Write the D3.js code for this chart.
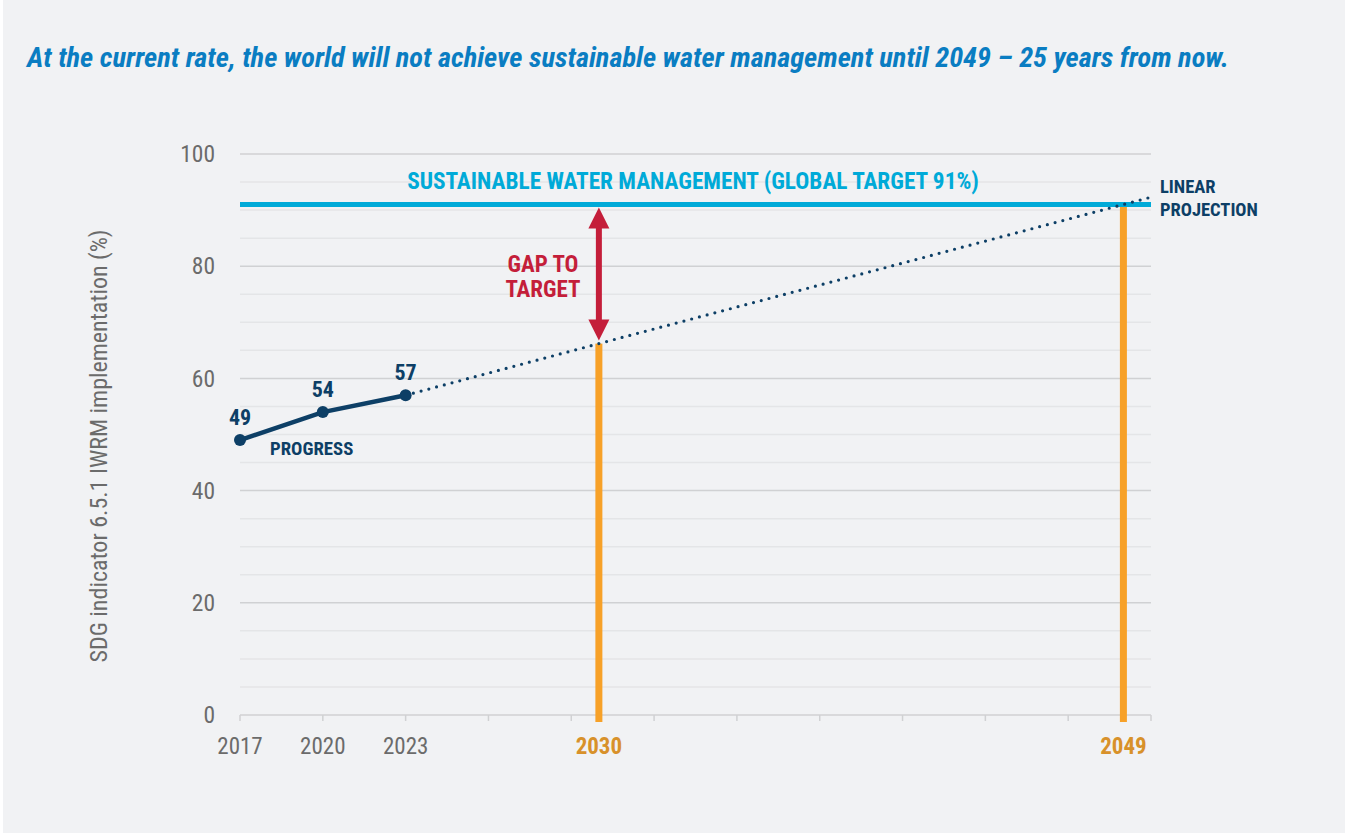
<!DOCTYPE html>
<html lang="en">
<head>
<meta charset="utf-8">
<title>IWRM progress</title>
<script src="https://d3js.org/d3.v7.min.js"></script>
<style>
  html, body { margin: 0; padding: 0; background: #fff; }
  svg { display: block; }
  text { font-family: "Roboto Condensed", "Liberation Sans Narrow", Roboto, sans-serif; }
  .bold { font-weight: 700; }
</style>
</head>
<body>
<script>
// data
var years = [2017, 2020, 2023];
var progress = [49, 54, 57];
var projYears = [2023, 2030, 2049, 2050];
var projValues = [57, 66.2, 91, 92.3];
var target = 91;
var milestoneYears = [2030, 2049];
var milestoneValues = [66.2, 91];
var tickYears = d3.range(2017, 2051, 3);
var yMajor = [0, 20, 40, 60, 80, 100];
var yMinor = d3.range(5, 100, 5).filter(function (v) { return v % 20 !== 0; });

var W = 1345, H = 833;
var navy = "#0d3f66", cyan = "#00aad8", orange = "#f7a128", red = "#c41e3a", grey = "#6b6b6b";

var svg = d3.select("body").append("svg").attr("width", W).attr("height", H);
svg.append("rect").attr("x", 3).attr("y", 0).attr("width", W - 3).attr("height", H).attr("fill", "#f1f2f4");

var x = d3.scaleLinear().domain([2017, 2050]).range([240, 1151]);
var y = d3.scaleLinear().domain([0, 100]).range([715, 154]);

// title
svg.append("text").attr("class", "bold")
   .attr("x", 27).attr("y", 67)
   .attr("font-size", 28.4).attr("font-style", "italic")
   .attr("fill", "#0a7dc2")
   .text("At the current rate, the world will not achieve sustainable water management until 2049 \u2013 25 years from now.");

// grid
svg.selectAll(".minor").data(yMinor).enter().append("line")
   .attr("x1", 240).attr("x2", 1151)
   .attr("y1", function (d) { return y(d); }).attr("y2", function (d) { return y(d); })
   .attr("stroke", "#e4e5e7").attr("stroke-width", 1.5);
svg.selectAll(".major").data(yMajor).enter().append("line")
   .attr("x1", 240).attr("x2", 1151)
   .attr("y1", function (d) { return y(d); }).attr("y2", function (d) { return y(d); })
   .attr("stroke", "#d0d1d3").attr("stroke-width", 1.5);

// y labels
svg.selectAll(".ylab").data(yMajor).enter().append("text")
   .attr("x", 215).attr("y", function (d) { return y(d); }).attr("dy", "0.35em")
   .attr("text-anchor", "end").attr("font-size", 23.5).attr("fill", grey)
   .text(function (d) { return d; });

svg.append("text")
   .attr("transform", "translate(107,446) rotate(-90)")
   .attr("text-anchor", "middle").attr("font-size", 24).attr("fill", grey)
   .text("SDG indicator 6.5.1 IWRM implementation (%)");

// x ticks
svg.selectAll(".xt").data(tickYears).enter().append("line")
   .attr("x1", function (d) { return x(d); }).attr("x2", function (d) { return x(d); })
   .attr("y1", y(0)).attr("y2", y(0) + 6)
   .attr("stroke", "#d0d1d3").attr("stroke-width", 1.5);

svg.selectAll(".xl").data(years).enter().append("text")
   .attr("x", function (d) { return x(d); }).attr("y", 754)
   .attr("text-anchor", "middle").attr("font-size", 23).attr("fill", grey)
   .text(function (d) { return d; });

svg.selectAll(".xm").data(milestoneYears).enter().append("text").attr("class", "bold")
   .attr("x", function (d) { return x(d); }).attr("y", 754)
   .attr("text-anchor", "middle").attr("font-size", 23).attr("fill", "#d8912a")
   .text(function (d) { return d; });

// orange milestone bars
svg.selectAll(".bar").data(milestoneYears).enter().append("rect")
   .attr("x", function (d) { return x(d) - 3.5; }).attr("width", 7)
   .attr("y", function (d, i) { return y(milestoneValues[i]); })
   .attr("height", function (d, i) { return y(0) + 7 - y(milestoneValues[i]); })
   .attr("fill", orange);

// target line
svg.append("line")
   .attr("x1", 240).attr("x2", 1151)
   .attr("y1", y(target)).attr("y2", y(target))
   .attr("stroke", cyan).attr("stroke-width", 5);

svg.append("text").attr("class", "bold")
   .attr("x", 693).attr("y", 189)
   .attr("text-anchor", "middle").attr("font-size", 23.3).attr("fill", cyan)
   .text("SUSTAINABLE WATER MANAGEMENT (GLOBAL TARGET 91%)");

// projection (dotted)
var line = d3.line().x(function (d) { return x(d[0]); }).y(function (d) { return y(d[1]); });
svg.append("path")
   .attr("d", line(d3.zip(projYears, projValues)))
   .attr("fill", "none").attr("stroke", navy).attr("stroke-width", 3.2)
   .attr("stroke-linecap", "round").attr("stroke-dasharray", "0 8");

svg.append("text").attr("class", "bold")
   .attr("x", 1160).attr("font-size", 18.5).attr("fill", navy)
   .selectAll("tspan").data(["LINEAR", "PROJECTION"]).enter().append("tspan")
   .attr("x", 1160).attr("y", function (d, i) { return 193 + i * 23; })
   .text(function (d) { return d; });

// progress line
var pts = d3.zip(years, progress);
svg.append("path")
   .attr("d", line(pts))
   .attr("fill", "none").attr("stroke", navy).attr("stroke-width", 4.5);
svg.selectAll(".pt").data(pts).enter().append("circle")
   .attr("cx", function (d) { return x(d[0]); }).attr("cy", function (d) { return y(d[1]); })
   .attr("r", 6).attr("fill", navy);
svg.selectAll(".pl").data(pts).enter().append("text").attr("class", "bold")
   .attr("x", function (d) { return x(d[0]); }).attr("y", function (d) { return y(d[1]) - 15; })
   .attr("text-anchor", "middle").attr("font-size", 22).attr("fill", navy)
   .text(function (d) { return d[1]; });
svg.append("text").attr("class", "bold")
   .attr("x", 270).attr("y", 455).attr("font-size", 18.8).attr("fill", navy)
   .text("PROGRESS");

// gap arrow
var ax = x(2030), yTop = y(target) + 3, yBot = y(milestoneValues[0]) - 3;
svg.append("rect").attr("x", ax - 3).attr("width", 6)
   .attr("y", yTop + 18).attr("height", yBot - yTop - 36).attr("fill", red);
svg.append("path")
   .attr("d", "M" + ax + "," + yTop + "L" + (ax + 10.5) + "," + (yTop + 21) + "L" + (ax - 10.5) + "," + (yTop + 21) + "Z")
   .attr("fill", red);
svg.append("path")
   .attr("d", "M" + ax + "," + yBot + "L" + (ax + 10.5) + "," + (yBot - 21) + "L" + (ax - 10.5) + "," + (yBot - 21) + "Z")
   .attr("fill", red);
svg.append("text").attr("class", "bold")
   .attr("text-anchor", "middle").attr("font-size", 23).attr("fill", red)
   .selectAll("tspan").data(["GAP TO", "TARGET"]).enter().append("tspan")
   .attr("x", 543).attr("y", function (d, i) { return 272 + i * 25; })
   .text(function (d) { return d; });
</script>
</body>
</html>
